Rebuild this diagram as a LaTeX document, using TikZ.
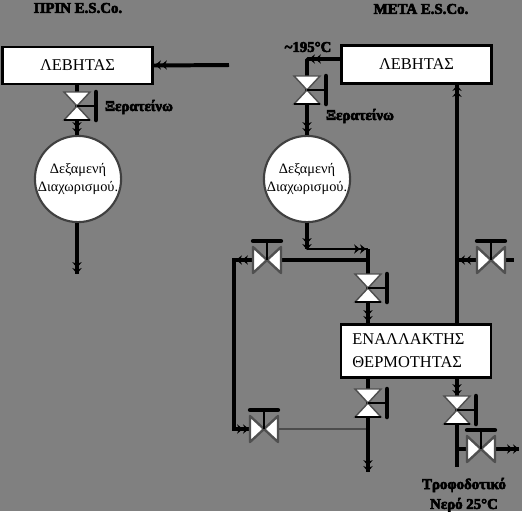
\documentclass[tikz,border=0pt]{standalone}
\usepackage{fontspec}
\setmainfont{Liberation Serif}
\newfontfamily\heavyfont[FakeBold=4]{Liberation Serif Bold}
\usetikzlibrary{arrows.meta}

\definecolor{sheet}{HTML}{808080}
\definecolor{rim}{HTML}{505050}

\tikzset{
  valvedown/.pic={
    \draw[rim,line width=1.1pt,fill=white,line join=miter] (-13,-14) -- (13,-14) -- (-13,14) -- (13,14) -- cycle;
    \draw[black,line width=2pt] (-13,14) -- (13,14);
    \draw[black,line width=2.2pt] (0,0) -- (19,0);
    \draw[black,line width=3.4pt,line cap=round] (19,-14) -- (19,14);
  },
  valveup/.pic={
    \draw[rim,line width=1.8pt,fill=white,line join=round] (-14,-13) -- (-14,13) -- (14,-13) -- (14,13) -- cycle;
    \draw[black,line width=2.2pt] (0,0) -- (0,-19);
    \draw[black,line width=3.2pt,line cap=round] (-14,-19) -- (14,-19);
  }
}

\begin{document}
\begin{tikzpicture}[x=0.0265cm,y=-0.0265cm,
    pipe/.style={line width=3pt},
    thinpipe/.style={line width=1.6pt},
    greypipe/.style={line width=1.8pt,draw=black!70},
    head/.style={line width=1.5pt,-{Stealth[length=4.5pt,width=7pt]Stealth[length=4.5pt,width=7pt]}},
    block/.style={draw,fill=white,line width=2pt,inner sep=0pt,font=\fontsize{12.4}{16}\selectfont},
    tank/.style={circle,draw=black!75,fill=white,line width=1.6pt,minimum size=65pt,inner sep=0pt,
      align=center,font=\fontsize{10.8}{13}\selectfont},
    tag/.style={font=\fontsize{11.2}{15}\heavyfont,align=center}]

  \useasboundingbox (0,0) rectangle (522,511);
  \fill[sheet] (0,0) rectangle (522,511);

  % --- the two boilers, the two tanks, the exchanger ---
  \node[block,minimum width=113pt,minimum height=28pt] (boilerA) at (77.5,65.5) {ΛΕΒΗΤΑΣ};
  \node[block,minimum width=113pt,minimum height=29pt] (boilerB) at (416.5,64.5) {ΛΕΒΗΤΑΣ};
  \node[tank] (tankA) at (78,179) {Δεξαμενή\\Διαχωρισμού.};
  \node[tank] (tankB) at (307,179) {Δεξαμενή\\Διαχωρισμού.};
  \node[block,minimum width=113pt,minimum height=40pt,align=left,text width=96pt,
        font=\fontsize{12.4}{17.3}\selectfont] (exchanger) at (416,351) {ΕΝΑΛΛΑΚΤΗΣ\\ΘΕΡΜΟΤΗΤΑΣ};

  % --- valve centres and pipe corners ---
  \coordinate (valveA) at (77,106);
  \coordinate (valveB) at (307,90);
  \coordinate (valveC) at (267,260);
  \coordinate (valveD) at (368,288);
  \coordinate (valveE) at (368,403);
  \coordinate (valveF) at (457,410);
  \coordinate (valveG) at (264,429);
  \coordinate (valveH) at (481,449);
  \coordinate (valveR) at (491,260);
  \coordinate (feedA) at (229,65);
  \coordinate (drainA) at (77,274);
  \coordinate (cornerB) at (307,59);
  \coordinate (teeB) at (307,249);
  \coordinate (cornerC) at (368,249);
  \coordinate (cornerD) at (234,260);
  \coordinate (cornerE) at (234,429);
  \coordinate (drainE) at (368,472);
  \coordinate (endF) at (457,467);
  \coordinate (teeF) at (457,449);
  \coordinate (outH) at (519,449);
  \coordinate (riser) at (457,260);
  \coordinate (stubR) at (514,260);

  % --- before: left side ---
  \draw[pipe] (feedA) -- (boilerA.east);
  \draw[pipe] (boilerA.south -| valveA) -- (valveA) -- (tankA.north -| valveA);
  \draw[pipe] (tankA.south -| drainA) -- (drainA);
  \draw[head] (167,65) -- (155,65);
  \draw[head] (77,122) -- (77,134);
  \draw[head] (77,262) -- (77,274);

  % --- after: boiler side ---
  \draw[pipe,rounded corners=1pt] (boilerB.west |- cornerB) -- (cornerB) -- (valveB) -- (tankB.north);
  \draw[head] (321,59) -- (309,59);
  \draw[head] (307,121) -- (307,134);
  \draw[pipe] (tankB.south) -- (teeB);
  \draw[head] (307,238) -- (307,250);
  \draw[thinpipe] (teeB) -- (cornerC);
  \draw[head] (350,249) -- (366,249);

  % --- after: loop round the exchanger ---
  \draw[pipe] (cornerC) -- (valveD) -- (exchanger.north -| valveD);
  \draw[head] (368,307) -- (368,322);
  \draw[pipe] (valveC) -- (valveD |- valveC);
  \draw[pipe] (valveC) -- (cornerD) -- (cornerE) -- (valveG);
  \draw[head] (249,260) -- (236,260);
  \draw[head] (235,429) -- (249,429);
  \draw[greypipe] (valveG) -- (valveE |- valveG);
  \draw[pipe] (exchanger.south -| valveE) -- (valveE) -- (drainE);
  \draw[head] (368,459) -- (368,472);

  % --- after: feed water side ---
  \draw[pipe] (exchanger.north -| riser) -- (boilerB.south -| riser);
  \draw[head] (457,98) -- (457,85);
  \draw[pipe] (riser) -- (valveR) -- (stubR);
  \draw[head] (472,260) -- (459,260);
  \draw[pipe] (exchanger.south -| valveF) -- (valveF) -- (endF);
  \draw[head] (457,383) -- (457,396);
  \draw[pipe] (teeF) -- (valveH) -- (outH);
  \draw[head] (504,449) -- (519,449);

  % --- the valves ---
  \pic at (valveA) {valvedown};
  \pic at (valveB) {valvedown};
  \pic at (valveD) {valvedown};
  \pic at (valveE) {valvedown};
  \pic at (valveF) {valvedown};
  \pic at (valveC) {valveup};
  \pic at (valveG) {valveup};
  \pic at (valveH) {valveup};
  \pic at (valveR) {valveup};

  % --- lettering ---
  \node[tag] (titleA) at (78,8) {ΠΡΙΝ E.S.Co.};
  \node[tag] (titleB) at (421,9) {META E.S.Co.};
  \node[tag] (dryerA) at (139,107) {Ξερατείνω};
  \node[tag] (dryerB) at (360,116) {Ξερατείνω};
  \node[tag] (steam) at (308,47) {\textasciitilde 195°C};
  \node[tag] (water) at (464,495) {Τροφοδοτικό\\Νερό 25°C};
\end{tikzpicture}
\end{document}
